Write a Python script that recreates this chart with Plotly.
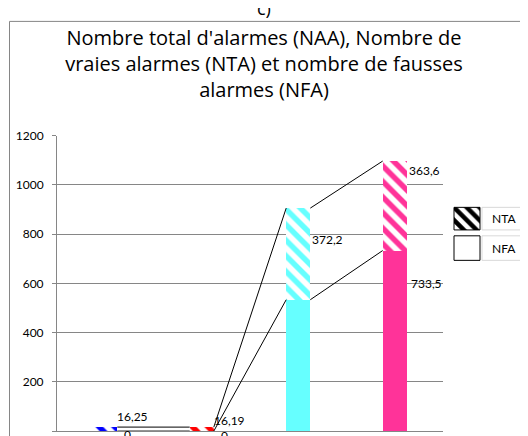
import plotly.graph_objects as go

categories = [0, 1, 2, 3]
nfa_values = [0, 0, 533.7, 733.5]        # solid segment (bottom)
nta_values = [16.25, 16.19, 372.2, 363.6]  # hatched segment (top)
nfa_labels = ["0", "0", "", "733,5"]
nta_labels = ["16,25", "16,19", "372,2", "363,6"]
bar_colors = ["#0000FF", "#FF0000", "#66FFFF", "#FF3399"]
y_ticks = [0, 200, 400, 600, 800, 1000, 1200]

OX, OY = 8, 8          # page body margin
W, H = 528 - OX, 436 - OY
FONT = "Lato"
TFONT = "Open Sans"
BW = 0.25

def px(xp):
    return (xp - OX) / W

def py(yp):
    return 1 - (yp - OY) / H

fig = go.Figure()

fig.add_trace(go.Bar(
    x=categories, y=nfa_values, width=BW, name="NFA",
    marker=dict(color=bar_colors, line=dict(width=0)),
    showlegend=False,
))
fig.add_trace(go.Bar(
    x=categories, y=nta_values, width=BW, name="NTA",
    marker=dict(color="white", line=dict(width=0),
                pattern=dict(shape="\\", fgcolor=bar_colors, bgcolor="white",
                             fgopacity=1, size=11, solidity=0.5, fillmode="overlay")),
    showlegend=False,
))

# series lines between stacked segments
tops_nfa = nfa_values
tops_all = [a + b for a, b in zip(nfa_values, nta_values)]
for tops in (tops_nfa, tops_all):
    xs, ys = [], []
    for i in range(len(categories) - 1):
        xs += [categories[i] + BW / 2, categories[i + 1] - BW / 2, None]
        ys += [tops[i], tops[i + 1], None]
    fig.add_trace(go.Scatter(x=xs, y=ys, mode="lines",
                             line=dict(color="black", width=1),
                             showlegend=False, hoverinfo="skip", cliponaxis=False))

# data labels
nta_shift = [11, 7, -31, -9]
nfa_shift = [-3, -4, 0, -33]
for i, c in enumerate(categories):
    fig.add_annotation(x=c + BW / 2, y=tops_all[i], text=nta_labels[i],
                       showarrow=False, xanchor="left", yanchor="middle",
                       xshift=-2 if i < 2 else 0, yshift=nta_shift[i],
                       font=dict(family=FONT, size=12, color="black"))
    if nfa_labels[i]:
        fig.add_annotation(x=c + BW / 2, y=tops_nfa[i], text=nfa_labels[i],
                           showarrow=False, xanchor="left", yanchor="middle",
                           xshift=5 if i < 2 else 2, yshift=nfa_shift[i],
                           font=dict(family=FONT, size=12, color="black"))

# legend swatches drawn on small auxiliary axes
sw_x = [px(454), px(480)]
fig.add_trace(go.Bar(x=[0], y=[1], width=1, xaxis="x2", yaxis="y2",
                     marker=dict(color="white", line=dict(width=0),
                                 pattern=dict(shape="\\", fgcolor="black", bgcolor="white",
                                              fgopacity=1, size=9, solidity=0.5,
                                              fillmode="overlay")),
                     showlegend=False, hoverinfo="skip"))
fig.add_trace(go.Bar(x=[0], y=[1], width=1, xaxis="x3", yaxis="y3",
                     marker=dict(color="white", line=dict(width=0)),
                     showlegend=False, hoverinfo="skip"))
for y0, y1 in ((203, 226), (232, 257)):
    fig.add_shape(type="rect", xref="paper", yref="paper",
                  x0=px(454), x1=px(480), y0=py(y1), y1=py(y0),
                  line=dict(color="black", width=1), fillcolor="rgba(0,0,0,0)")

for name, y0, y1 in (("NTA", 203, 226), ("NFA", 232, 257)):
    fig.add_shape(type="rect", xref="paper", yref="paper",
                  x0=px(482), x1=px(527), y0=py(y1), y1=py(y0),
                  line=dict(color="#D9D9D9", width=1), fillcolor="white")
    fig.add_annotation(xref="paper", yref="paper", x=px(504), y=py((y0 + y1) / 2),
                       text=name, showarrow=False, xanchor="center", yanchor="middle",
                       font=dict(family=FONT, size=12, color="black"))

# chart-area border
fig.add_shape(type="rect", xref="paper", yref="paper",
              x0=px(9.5), x1=px(545), y0=py(460), y1=py(13.5),
              line=dict(color="#868686", width=1), layer="below")

# "c)" label above the border (cut off at the top, as in the original)
fig.add_annotation(xref="paper", yref="paper", x=px(264), y=py(14),
                   text="c)", showarrow=False, xanchor="center", yanchor="bottom",
                   font=dict(family=TFONT, size=18, color="black"))

fig.update_layout(
    width=W, height=H,
    margin=dict(l=0, r=0, t=0, b=0),
    barmode="stack",
    paper_bgcolor="white", plot_bgcolor="white",
    showlegend=False,
    title=dict(text="Nombre total d'alarmes (NAA), Nombre de<br>vraies alarmes (NTA) et nombre de fausses<br>alarmes (NFA)",
               x=(264 - OX) / W, xanchor="center", y=py(45), yanchor="top",
               font=dict(family=TFONT, size=20, color="black")),
    xaxis=dict(domain=[px(57), px(443)], range=[-0.5, 3.5], showticklabels=False,
               ticks="", showgrid=False, zeroline=False, showline=True,
               linecolor="#868686", linewidth=1, fixedrange=True),
    yaxis=dict(domain=[py(431), py(130)], range=[0, 1200], tickvals=y_ticks,
               ticks="outside", ticklen=4, tickcolor="#868686", showgrid=True,
               gridcolor="#868686", gridwidth=1, zeroline=False, showline=True,
               linecolor="#868686", linewidth=1, fixedrange=True,
               tickfont=dict(family=FONT, size=12, color="black"), ticklabelstandoff=6),
    xaxis2=dict(domain=sw_x, range=[-0.5, 0.5], visible=False, anchor="y2", fixedrange=True),
    yaxis2=dict(domain=[py(226), py(203)], range=[0, 1], visible=False, anchor="x2", fixedrange=True),
    xaxis3=dict(domain=sw_x, range=[-0.5, 0.5], visible=False, anchor="y3", fixedrange=True),
    yaxis3=dict(domain=[py(257), py(232)], range=[0, 1], visible=False, anchor="x3", fixedrange=True),
)

fig.write_html("out.html")
